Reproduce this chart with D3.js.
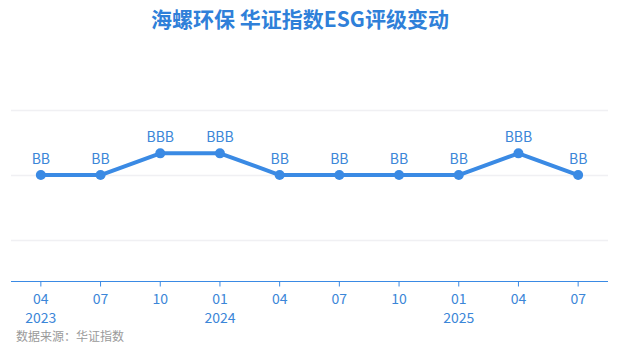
<!DOCTYPE html>
<html>
<head>
<meta charset="utf-8">
<script src="https://cdn.jsdelivr.net/npm/d3@7"></script>
<style>
  body { margin: 0; background: #fff; }
  svg text { font-family: "Microsoft YaHei", "Noto Sans CJK SC", sans-serif; }
</style>
</head>
<body>
<div id="chart"></div>
<script>
var width = 618, height = 355;

// data
var months = ['04', '07', '10', '01', '04', '07', '10', '01', '04', '07'];
var years = ['2023', '', '', '2024', '', '', '', '2025', '', ''];
var ratings = ['BB', 'BB', 'BBB', 'BBB', 'BB', 'BB', 'BB', 'BB', 'BBB', 'BB'];
var ratingLevel = { 'B': 5, 'BB': 6, 'BBB': 7, 'A': 8 };
var yTicks = [3, 6, 9];

var blue = '#3a8ae4';
var textBlue = '#3b86d8';

var margin = { left: 11, right: 10, top: 80, bottom: 74 };

var svg = d3.select('#chart').append('svg')
    .attr('width', width)
    .attr('height', height);

var x = d3.scaleBand()
    .domain(d3.range(months.length))
    .range([margin.left, width - margin.right]);

var y = d3.scaleLinear()
    .domain([1.11, 10.5])
    .range([height - margin.bottom, height - margin.bottom - 9.39 * 21.67]);

// grid
svg.append('g')
    .selectAll('line')
    .data(yTicks)
    .enter().append('line')
    .attr('x1', margin.left)
    .attr('x2', width - margin.right)
    .attr('y1', d => Math.round(y(d)) + 0.5)
    .attr('y2', d => Math.round(y(d)) + 0.5)
    .attr('stroke', '#f0f0f3')
    .attr('stroke-width', 1.5);

// x axis
var axisY = Math.round(y.range()[0]) + 0.5;
svg.append('line')
    .attr('x1', margin.left)
    .attr('x2', width - margin.right)
    .attr('y1', axisY)
    .attr('y2', axisY)
    .attr('stroke', blue)
    .attr('stroke-width', 1.2);

var cx = i => x(i) + x.bandwidth() / 2;

var ticks = svg.append('g')
    .selectAll('g')
    .data(months)
    .enter().append('g')
    .attr('transform', (d, i) => 'translate(' + cx(i) + ',' + axisY + ')');

ticks.append('line')
    .attr('y2', 5)
    .attr('stroke', blue);

ticks.append('text')
    .attr('y', 22)
    .attr('text-anchor', 'middle')
    .attr('fill', textBlue)
    .style('font-size', '14px')
    .text(d => d);

ticks.append('text')
    .attr('y', 41)
    .attr('text-anchor', 'middle')
    .attr('fill', textBlue)
    .style('font-size', '14px')
    .text((d, i) => years[i]);

// line
var line = d3.line()
    .x((d, i) => cx(i))
    .y(d => y(ratingLevel[d]));

svg.append('path')
    .datum(ratings)
    .attr('d', line)
    .attr('fill', 'none')
    .attr('stroke', blue)
    .attr('stroke-width', 4)
    .attr('stroke-linejoin', 'round');

svg.append('g')
    .selectAll('circle')
    .data(ratings)
    .enter().append('circle')
    .attr('cx', (d, i) => cx(i))
    .attr('cy', d => y(ratingLevel[d]))
    .attr('r', 5)
    .attr('fill', blue);

svg.append('g')
    .selectAll('text')
    .data(ratings)
    .enter().append('text')
    .attr('x', (d, i) => cx(i))
    .attr('y', d => y(ratingLevel[d]) - 11)
    .attr('text-anchor', 'middle')
    .attr('fill', textBlue)
    .style('font-size', '14px')
    .text(d => d);

// title
svg.append('text')
    .attr('x', 300)
    .attr('y', 27)
    .attr('text-anchor', 'middle')
    .attr('fill', '#2f80d9')
    .style('font-size', '21px')
    .style('font-weight', 'bold')
    .text('海螺环保 华证指数ESG评级变动');

// source
svg.append('text')
    .attr('x', 16)
    .attr('y', 341)
    .attr('fill', '#9a9a9a')
    .style('font-size', '12px')
    .text('数据来源：华证指数');
</script>
</body>
</html>
